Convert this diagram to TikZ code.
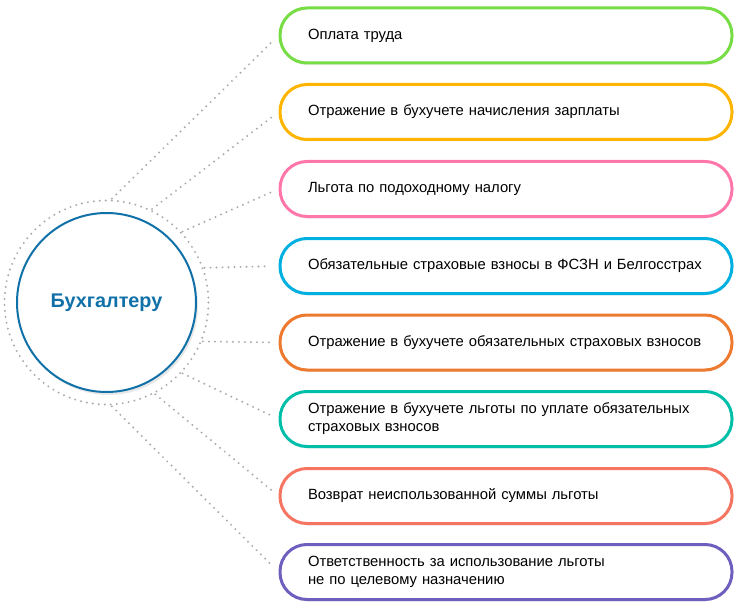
\documentclass[tikz,border=0pt]{standalone}
\usepackage{fontspec}
\setmainfont{Liberation Sans}
\usetikzlibrary{shadows,calc}

\definecolor{acctblue}{HTML}{1070A8}
\definecolor{dotgray}{HTML}{A6ACB0}
\definecolor{cgreen}{HTML}{77DD44}
\definecolor{cyellow}{HTML}{FFB400}
\definecolor{cpink}{HTML}{FF77AA}
\definecolor{cblue}{HTML}{00B0E0}
\definecolor{corange}{HTML}{EE7A30}
\definecolor{cteal}{HTML}{00BFA8}
\definecolor{ccoral}{HTML}{F57562}
\definecolor{cviolet}{HTML}{6E5FBE}

\tikzset{
	topicbox/.style={draw=#1, line width=3pt, fill=white, rounded corners=27pt,
		minimum width=452pt, minimum height=55pt, text width=396pt, inner xsep=28pt,
		align=left, font=\fontsize{14.8}{18}\selectfont,
		drop shadow={shadow xshift=0pt, shadow yshift=-2pt, opacity=0.12}},
	dotline/.style={dotgray, line width=2.2pt, line cap=round, dash pattern=on 0pt off 6pt}
}

\begin{document}
\begin{tikzpicture}[x=1pt,y=-1pt]
			\useasboundingbox (0,0) rectangle (739,615);
			\coordinate (ctr) at (106.5,302.5);
			
			\draw[dotline] (ctr) circle (102);
			\node[circle, draw=acctblue, line width=2pt, fill=white, minimum size=179pt,
				font=\fontsize{19.8}{24}\bfseries, text=acctblue,
				drop shadow={shadow xshift=2pt, shadow yshift=-3pt, opacity=0.18}] (acct) at (ctr) {Бухгалтеру};
			
			\node[topicbox=cgreen] (b1) at (506,35.5) {Оплата труда};
			\node[topicbox=cyellow] (b2) at (506,112) {Отражение в бухучете начисления зарплаты};
			\node[topicbox=cpink] (b3) at (506,189) {Льгота по подоходному налогу};
			\node[topicbox=cblue] (b4) at (506,266) {Обязательные страховые взносы в ФСЗН и Белгосстрах};
			\node[topicbox=corange] (b5) at (506,342.5) {Отражение в бухучете обязательных страховых взносов};
			\node[topicbox=cteal] (b6) at (506,419) {Отражение в бухучете льготы по уплате обязательных\\страховых взносов};
			\node[topicbox=ccoral] (b7) at (506,496) {Возврат неиспользованной суммы льготы};
			\node[topicbox=cviolet] (b8) at (506,572) {Ответственность за использование льготы\\не по целевому назначению};
			
			% start points on the dotted ring (y runs downwards, so angles are mirrored)
			\foreach \i/\a in {1/-87,2/-64,3/-43,4/-19.5,5/22,6/43,7/62,8/87} {
				\coordinate (r\i) at ($(ctr)+(\a:104)$);
				\draw[dotline, shorten >=8pt] (r\i) -- (b\i.west);
			}
		\end{tikzpicture}
\end{document}
